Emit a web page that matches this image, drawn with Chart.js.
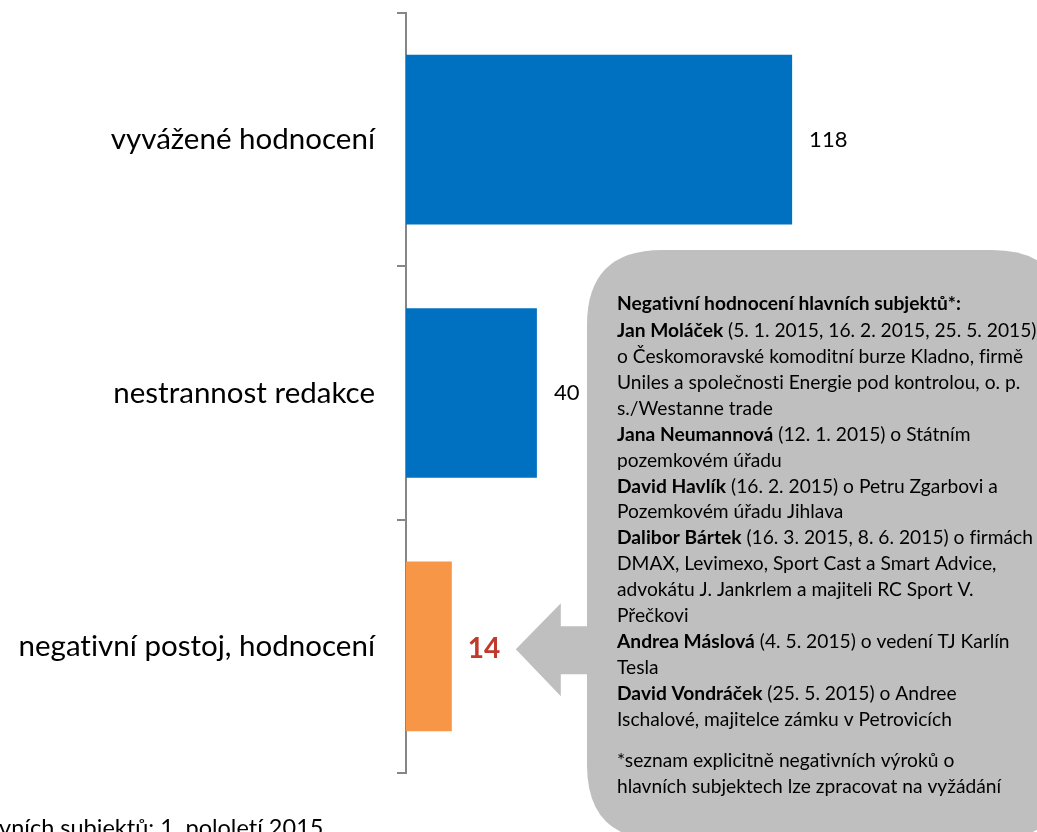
<!DOCTYPE html>
<html>
<head>
<meta charset="utf-8">
<script src="https://cdn.jsdelivr.net/npm/chart.js@4/dist/chart.umd.min.js"></script>
<style>
  html, body { margin: 0; padding: 0; background: #ffffff; overflow: hidden; }
  #wrap { position: relative; width: 1037px; height: 832px; }
</style>
</head>
<body>
<div id="wrap"><canvas id="c" width="1037" height="832"></canvas></div>
<script>
// ---- data ----
const categories = ['vyvážené hodnocení', 'nestrannost redakce', 'negativní postoj, hodnocení'];
const counts = [118, 40, 14];
const barColors = ['#0070C0', '#0070C0', '#F79646'];
const xMax = 180;

const calloutTitle = 'Negativní hodnocení hlavních subjektů*:';
const calloutLines = [
  [['Jan Moláček', true], [' (5. 1. 2015, 16. 2. 2015, 25. 5. 2015)', false]],
  [['o Českomoravské komoditní burze Kladno, firmě', false]],
  [['Uniles a společnosti Energie pod kontrolou, o. p.', false]],
  [['s./Westanne trade', false]],
  [['Jana Neumannová', true], [' (12. 1. 2015) o Státním', false]],
  [['pozemkovém úřadu', false]],
  [['David Havlík', true], [' (16. 2. 2015) o Petru Zgarbovi a', false]],
  [['Pozemkovém úřadu Jihlava', false]],
  [['Dalibor Bártek', true], [' (16. 3. 2015, 8. 6. 2015) o firmách', false]],
  [['DMAX, Levimexo, Sport Cast a Smart Advice,', false]],
  [['advokátu J. Jankrlem a majiteli RC Sport V.', false]],
  [['Přečkovi', false]],
  [['Andrea Máslová', true], [' (4. 5. 2015) o vedení TJ Karlín', false]],
  [['Tesla', false]],
  [['David Vondráček', true], [' (25. 5. 2015) o Andree', false]],
  [['Ischalové, majitelce zámku v Petrovicích', false]]
];
const footnoteLines = [
  '*seznam explicitně negativních výroků o',
  'hlavních subjektech lze zpracovat na vyžádání'
];
const bottomCaption = 'vních subjektů: 1. pololetí 2015';

const FONT = 'Lato, "Open Sans", sans-serif';
const CALLOUT_SIZE = 19.2;

// ---- plugins ----
const noLigatures = {
  id: 'noLigatures',
  beforeDraw(chart) {
    try { chart.ctx.letterSpacing = '0.01px'; } catch (e) {}
  }
};

const valueLabels = {
  id: 'valueLabels',
  afterDatasetsDraw(chart) {
    const ctx = chart.ctx;
    const meta = chart.getDatasetMeta(0);
    ctx.save();
    ctx.textBaseline = 'middle';
    ctx.textAlign = 'left';
    meta.data.forEach((bar, i) => {
      const last = i === counts.length - 1;
      if (last) {
        ctx.font = 'bold 28px ' + FONT;
        ctx.fillStyle = '#C0392B';
        ctx.fillText(String(counts[i]), bar.x + 16, bar.y + 3);
      } else {
        ctx.font = '22px ' + FONT;
        ctx.fillStyle = '#000000';
        ctx.fillText(String(counts[i]), bar.x + 17, bar.y);
      }
    });
    ctx.restore();
  }
};

function roundRectPath(ctx, x, y, w, h, r) {
  ctx.moveTo(x + r, y);
  ctx.lineTo(x + w - r, y);
  ctx.quadraticCurveTo(x + w, y, x + w, y + r);
  ctx.lineTo(x + w, y + h - r);
  ctx.quadraticCurveTo(x + w, y + h, x + w - r, y + h);
  ctx.lineTo(x + r, y + h);
  ctx.quadraticCurveTo(x, y + h, x, y + h - r);
  ctx.lineTo(x, y + r);
  ctx.quadraticCurveTo(x, y, x + r, y);
}

const callout = {
  id: 'callout',
  afterDraw(chart) {
    const ctx = chart.ctx;
    const yS = chart.scales.y;
    const meta = chart.getDatasetMeta(0);
    const target = meta.data[2];
    const tipY = yS.getPixelForValue(2) + 3;
    const tipX = target.x + 64;
    const bx = 587, by = 250, bw = 480, bh = 590, r = 75;
    ctx.save();
    ctx.fillStyle = '#BFBFBF';
    ctx.beginPath();
    roundRectPath(ctx, bx, by, bw, bh, r);
    ctx.fill();
    // arrow
    ctx.beginPath();
    ctx.moveTo(tipX, tipY);
    ctx.lineTo(tipX + 45, tipY - 46);
    ctx.lineTo(tipX + 45, tipY - 23);
    ctx.lineTo(bx + 5, tipY - 23);
    ctx.lineTo(bx + 5, tipY + 25);
    ctx.lineTo(tipX + 45, tipY + 25);
    ctx.lineTo(tipX + 45, tipY + 47);
    ctx.closePath();
    ctx.fill();

    // text
    const tx = 617;
    ctx.fillStyle = '#000000';
    ctx.textBaseline = 'middle';
    ctx.textAlign = 'left';
    ctx.font = 'bold ' + CALLOUT_SIZE + 'px ' + FONT;
    ctx.fillText(calloutTitle, tx, 304);
    calloutLines.forEach((runs, i) => {
      let x = tx;
      const y = 331 + i * 25.9;
      runs.forEach(([t, b]) => {
        ctx.font = (b ? 'bold ' : '') + CALLOUT_SIZE + 'px ' + FONT;
        ctx.fillText(t, x, y);
        x += ctx.measureText(t).width;
      });
    });
    ctx.font = CALLOUT_SIZE + 'px ' + FONT;
    footnoteLines.forEach((t, i) => ctx.fillText(t, tx, 761 + i * 26));

    // bottom caption (cropped in reference)
    ctx.font = '23.5px ' + FONT;
    ctx.textBaseline = 'alphabetic';
    ctx.fillText(bottomCaption, -1, 836);
    ctx.restore();
  }
};

new Chart(document.getElementById('c'), {
  type: 'bar',
  data: {
    labels: categories,
    datasets: [{
      data: counts,
      backgroundColor: barColors,
      borderWidth: 0,
      barPercentage: 1,
      categoryPercentage: 0.67
    }]
  },
  options: {
    indexAxis: 'y',
    responsive: false,
    animation: false,
    events: [],
    layout: { padding: { left: 0, right: 42, top: 13, bottom: 59 } },
    plugins: { legend: { display: false }, tooltip: { enabled: false } },
    scales: {
      x: { display: false, min: 0, max: xMax },
      y: {
        afterFit(scale) { scale.width = 406; scale.paddingTop = 0; scale.paddingBottom = 0; },
        border: { display: true, color: '#868686', width: 2 },
        grid: { offset: true, drawOnChartArea: false, drawTicks: true, tickLength: 9, color: '#868686', lineWidth: 2 },
        ticks: { color: '#000000', padding: 22, font: { family: FONT, size: 29.5 } }
      }
    }
  },
  plugins: [noLigatures, valueLabels, callout]
});
</script>
</body>
</html>
